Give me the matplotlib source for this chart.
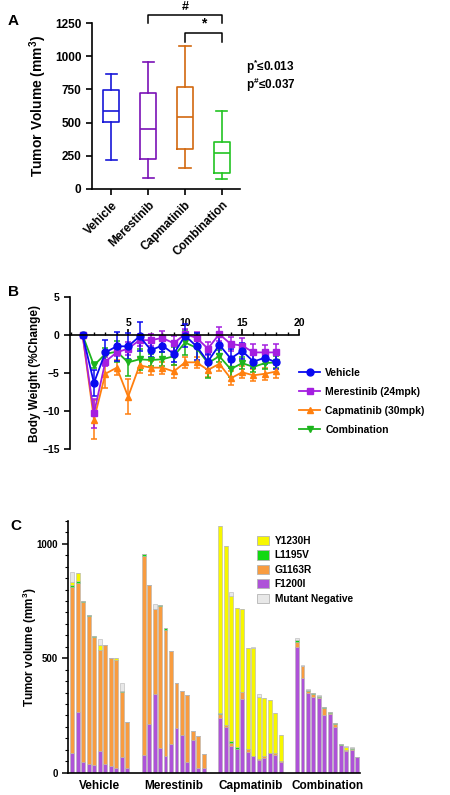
import matplotlib
matplotlib.use("Agg")
from matplotlib import pyplot
from matplotlib.lines import Line2D
from matplotlib.patches import Patch
from matplotlib.ticker import MultipleLocator

# ---- Panel A: tumor volume box plot ----
box_groups = ["Vehicle", "Merestinib", "Capmatinib", "Combination"]
box_low = [220, 82, 158, 73]
box_q1 = [507, 222, 300, 122]
box_median = [585, 450, 542, 272]
box_q3 = [745, 722, 768, 355]
box_high = [870, 957, 1075, 585]
box_colors = ["#1818d8", "#7a12b6", "#d2680f", "#22c422"]

# ---- Panel B: body weight change ----
days = list(range(1, 19))
vehicle_bw = [0, -6.3, -2.3, -1.5, -1.5, -0.2, -2.0, -1.4, -2.5, -0.1, -1.5, -3.5, -1.3, -3.1, -2.1, -3.5, -3.0, -3.6]
vehicle_err = [0, 1.7, 1.6, 1.9, 1.7, 1.9, 0.9, 0.9, 1.0, 1.5, 1.8, 1.0, 1.2, 1.3, 1.0, 0.9, 0.8, 0.9]
merestinib_bw = [0, -10.3, -3.5, -2.3, -1.8, -0.7, -0.7, -0.4, -1.1, 0.1, -0.4, -1.8, 0.1, -1.2, -1.4, -2.3, -2.3, -2.3]
merestinib_err = [0, 1.9, 0.6, 0.5, 0.9, 0.8, 0.8, 0.9, 1.0, 0.7, 0.8, 0.9, 0.9, 0.9, 1.0, 1.1, 1.0, 1.1]
capmatinib_bw = [0, -11.1, -5.1, -4.3, -8.1, -4.0, -4.3, -4.3, -4.8, -3.6, -3.6, -4.6, -3.8, -5.7, -4.9, -5.3, -5.1, -4.8]
capmatinib_err = [0, 2.5, 1.8, 1.0, 2.3, 1.0, 0.9, 0.8, 0.9, 0.7, 0.7, 0.9, 0.9, 0.9, 0.8, 0.8, 0.8, 0.8]
combination_bw = [0, -4.0, -2.5, -2.2, -3.6, -3.2, -3.3, -3.2, -2.8, -1.0, -1.7, -3.7, -2.8, -4.5, -3.7, -4.2, -3.7, -3.6]
combination_err = [0, 0.4, 0.8, 1.4, 1.8, 1.4, 0.8, 0.9, 1.2, 1.6, 1.9, 1.9, 0.8, 1.0, 0.8, 0.7, 0.8, 0.8]

# ---- Panel C: per-tumor mutation composition (segment heights, mm^3) ----
mutations = ["Y1230H", "L1195V", "G1163R", "F1200I", "Mutant Negative"]
mutation_colors = {"Y1230H": "#f7f700", "L1195V": "#12d812", "G1163R": "#f89c40",
                   "F1200I": "#ae52d8", "Mutant Negative": "#e8e8e8"}
group_names = ["Vehicle", "Merestinib", "Capmatinib", "Combination"]

vehicle_f1200i = [86, 265, 48, 39, 32, 93, 36, 31, 20, 67, 20]
vehicle_g1163r = [727, 566, 698, 646, 562, 443, 522, 472, 471, 285, 200]
vehicle_l1195v = [8, 7, 4, 3, 2, 0, 0, 0, 0, 4, 0]
vehicle_y1230h = [14, 34, 0, 0, 0, 20, 0, 0, 9, 0, 0]
vehicle_negative = [40, 0, 0, 0, 0, 26, 0, 0, 0, 37, 0]

merestinib_f1200i = [79, 213, 344, 108, 73, 125, 197, 165, 47, 141, 22, 22]
merestinib_g1163r = [869, 607, 371, 620, 549, 407, 193, 193, 291, 41, 138, 61]
merestinib_l1195v = [6, 0, 0, 3, 9, 0, 0, 0, 0, 0, 0, 0]
merestinib_y1230h = [0, 0, 0, 0, 0, 0, 0, 0, 0, 0, 0, 0]
merestinib_negative = [0, 0, 21, 0, 0, 0, 0, 0, 0, 0, 0, 0]

capmatinib_f1200i = [239, 200, 115, 105, 323, 90, 71, 55, 63, 87, 77, 45]
capmatinib_g1163r = [16, 7, 16, 0, 30, 12, 0, 3, 8, 0, 8, 5]
capmatinib_l1195v = [6, 2, 7, 7, 0, 0, 0, 0, 0, 0, 0, 0]
capmatinib_y1230h = [816, 780, 636, 608, 362, 441, 472, 273, 255, 229, 176, 113]
capmatinib_negative = [0, 0, 14, 0, 0, 0, 5, 14, 0, 0, 0, 0]

combination_f1200i = [548, 415, 347, 329, 328, 251, 255, 198, 119, 96, 99, 67]
combination_g1163r = [23, 50, 8, 16, 4, 33, 5, 15, 3, 5, 5, 3]
combination_l1195v = [9, 3, 6, 3, 4, 3, 5, 3, 3, 0, 5, 0]
combination_y1230h = [0, 0, 0, 0, 0, 0, 0, 0, 0, 10, 0, 0]
combination_negative = [7, 4, 6, 0, 3, 0, 0, 0, 0, 6, 5, 0]

group_segments = [
    [vehicle_f1200i, vehicle_g1163r, vehicle_l1195v, vehicle_y1230h, vehicle_negative],
    [merestinib_f1200i, merestinib_g1163r, merestinib_l1195v, merestinib_y1230h, merestinib_negative],
    [capmatinib_f1200i, capmatinib_g1163r, capmatinib_l1195v, capmatinib_y1230h, capmatinib_negative],
    [combination_f1200i, combination_g1163r, combination_l1195v, combination_y1230h, combination_negative],
]
stack_order = ["F1200I", "G1163R", "L1195V", "Y1230H", "Mutant Negative"]


def main() -> None:
    pyplot.rcParams["font.family"] = ["Liberation Sans", "DejaVu Sans"]
    pyplot.rcParams["font.weight"] = "bold"
    pyplot.rcParams["axes.labelweight"] = "bold"
    pyplot.rcParams["mathtext.default"] = "regular"
    pyplot.rcParams["axes.linewidth"] = 1.2

    figure = pyplot.figure(figsize=(4.5, 7.95), dpi=100)

    # Panel A
    axes = figure.add_axes([0.204, 0.7627, 0.330, 0.208])
    for i, name in enumerate(box_groups):
        c = box_colors[i]
        s = {"label": name, "whislo": box_low[i], "q1": box_q1[i], "med": box_median[i],
             "q3": box_q3[i], "whishi": box_high[i], "fliers": []}
        axes.bxp([s], positions=[i + 1], widths=0.43, capwidths=0.3, showfliers=False,
                 boxprops={"color": c, "linewidth": 1.2},
                 medianprops={"color": c, "linewidth": 1.2},
                 whiskerprops={"color": c, "linewidth": 1.2},
                 capprops={"color": c, "linewidth": 1.2})
    axes.set_xlim(0.47, 4.5)
    axes.set_ylim(0, 1250)
    axes.set_yticks([0, 250, 500, 750, 1000, 1250])
    axes.set_xticks([1, 2, 3, 4])
    axes.set_xticklabels(box_groups, rotation=45, ha="right", rotation_mode="anchor", fontsize=8.5)
    axes.tick_params(axis="y", labelsize=8.5, width=1.2, length=4)
    axes.tick_params(axis="x", width=1.2, length=4)
    axes.spines["top"].set_visible(False)
    axes.spines["right"].set_visible(False)
    axes.set_ylabel("Tumor Volume (mm$^3$)", fontsize=10)
    axes.yaxis.set_label_coords(-0.29, 0.5)

    # significance brackets
    axes.plot([2, 2, 4, 4], [1254, 1312, 1312, 1254], color="black", lw=1.1, clip_on=False)
    axes.text(3, 1330, "#", ha="center", va="bottom", fontsize=9)
    axes.plot([3, 3, 4, 4], [1111, 1179, 1179, 1111], color="black", lw=1.1, clip_on=False)
    axes.text(3.5, 1192, "*", ha="center", va="bottom", fontsize=10)
    axes.text(4.65, 922, "p$^{*}$≤0.013", ha="left", va="center", fontsize=8.5, clip_on=False)
    axes.text(4.65, 784, "p$^{\\#}$≤0.037", ha="left", va="center", fontsize=8.5, clip_on=False)

    # Panel B
    axes = figure.add_axes([0.1556, 0.4348, 0.509, 0.192])
    series = [
        ("Capmatinib (30mpk)", capmatinib_bw, capmatinib_err, "#ff7f0e", "^"),
        ("Combination", combination_bw, combination_err, "#1db41d", "v"),
        ("Merestinib (24mpk)", merestinib_bw, merestinib_err, "#a41ee0", "s"),
        ("Vehicle", vehicle_bw, vehicle_err, "#0a0af0", "o"),
    ]
    handles = {}
    for label, values, errors, color, marker in series:
        axes.errorbar(days, values, yerr=errors, color=color, marker=marker, markersize=5,
                      linewidth=1.3, elinewidth=1.1, capsize=2.5, capthick=1.1)
        handles[label] = Line2D([], [], color=color, marker=marker, markersize=5, linewidth=1.3)
    axes.set_xlim(-0.1, 20)
    axes.set_ylim(-15, 5)
    axes.set_yticks([5, 0, -5, -10, -15])
    axes.spines["right"].set_visible(False)
    axes.spines["bottom"].set_visible(False)
    axes.spines["top"].set_position(("data", 0))
    axes.xaxis.tick_top()
    axes.set_xticks([5, 10, 15, 20])
    axes.xaxis.set_minor_locator(MultipleLocator(1))
    axes.tick_params(axis="x", which="major", labelsize=7.5, width=1.2, length=4, pad=1)
    axes.tick_params(axis="x", which="minor", width=1.0, length=2.5)
    axes.tick_params(axis="y", labelsize=7.5, width=1.2, length=4)
    axes.set_ylabel("Body Weight (%Change)", fontsize=8.5)
    axes.yaxis.set_label_coords(-0.125, 0.5)
    order = ["Vehicle", "Merestinib (24mpk)", "Capmatinib (30mpk)", "Combination"]
    axes.legend([handles[k] for k in order], order, loc="upper left",
                bbox_to_anchor=(0.665, 0.537), bbox_transform=figure.transFigure,
                frameon=False, fontsize=7.5, handlelength=2.0, handletextpad=0.5,
                labelspacing=0.85, borderaxespad=0, borderpad=0)

    # Panel C
    axes = figure.add_axes([0.152, 0.0281, 0.648, 0.3166])
    offsets = [0, 13, 27, 41]
    centers = []
    for g, segments in enumerate(group_segments):
        n = len(segments[0])
        positions = [offsets[g] + k for k in range(n)]
        centers.append(offsets[g] + (n - 1) / 2)
        bottoms = [0] * n
        for name, heights in zip(stack_order, segments):
            axes.bar(positions, heights, bottom=bottoms, width=0.72,
                     color=mutation_colors[name], edgecolor="#b4b4b4", linewidth=0.4)
            bottoms = [b + h for b, h in zip(bottoms, heights)]
    axes.set_xlim(-0.73, 52.5)
    axes.set_ylim(0, 1100)
    axes.set_yticks([0, 500, 1000])
    axes.yaxis.set_minor_locator(MultipleLocator(50))
    axes.set_xticks(centers)
    axes.set_xticklabels(group_names, fontsize=8.5)
    axes.tick_params(axis="x", length=0, pad=5)
    axes.tick_params(axis="y", which="major", labelsize=7, width=1.1, length=4)
    axes.tick_params(axis="y", which="minor", width=0.8, length=2.5)
    axes.spines["top"].set_visible(False)
    axes.spines["right"].set_visible(False)
    axes.set_ylabel("Tumor volume (mm$^3$)", fontsize=8.5)
    axes.yaxis.set_label_coords(-0.1, 0.5)
    patches = [Patch(facecolor=mutation_colors[m], edgecolor="#b4b4b4", linewidth=0.6) for m in mutations]
    axes.legend(patches, mutations, loc="upper left", bbox_to_anchor=(0.572, 0.326),
                bbox_transform=figure.transFigure, frameon=False, fontsize=7.3,
                handlelength=1.15, handleheight=1.05, handletextpad=0.55, labelspacing=0.42,
                borderaxespad=0, borderpad=0)

    # panel letters
    figure.text(0.018, 0.982, "A", fontsize=11, va="top")
    figure.text(0.018, 0.641, "B", fontsize=11, va="top")
    figure.text(0.022, 0.347, "C", fontsize=11, va="top")

    figure.savefig("out.png", dpi=100)


if __name__ == "__main__":
    main()
